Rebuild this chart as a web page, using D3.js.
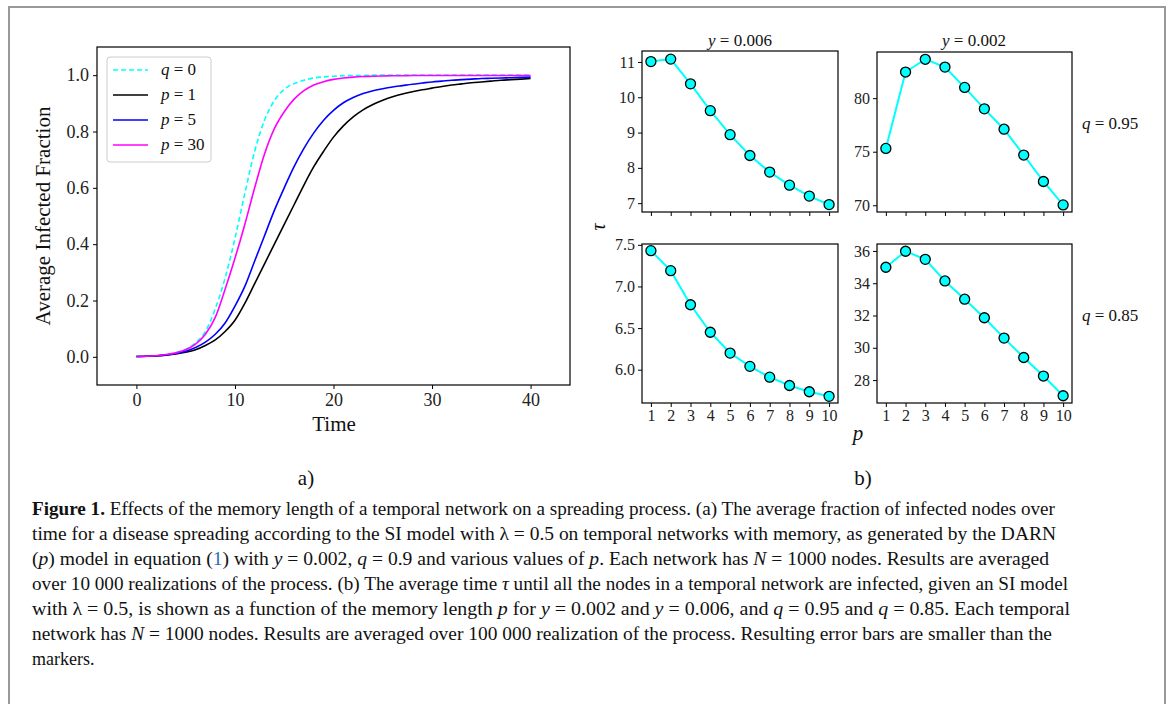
<!DOCTYPE html>
<html lang="en">
<head>
<meta charset="utf-8">
<title>Figure 1</title>
<script src="https://cdn.jsdelivr.net/npm/d3@7"></script>
<style>
    body { margin: 0; background: #fff; }
    text { font-family: "Liberation Serif", "DejaVu Serif", serif; fill: #111; }
    .axis path, .axis line { stroke: #000; }
    .axis text { font-family: "Liberation Serif", serif; fill: #222; }
</style>
</head>
<body>
<svg id="fig" width="1168" height="704"></svg>
<script>
// ---- data for panel a) (average infected fraction vs time) ----
var time = [0,1,2,3,4,5,6,7,8,9,10,11,12,13,14,15,16,17,18,19,20,
            21,22,23,24,25,26,27,28,29,30,31,32,33,34,35,36,37,38,39,40];
var fracQ0 = [0.001,0.002,0.004,0.008,0.015,0.027,0.05,0.09,0.17,0.28,0.42,0.58,0.73,0.84,0.91,0.95,0.97,0.982,0.99,0.994,0.996,
              0.998,0.999,0.999,1,1,1,1,1,1,1,1,1,1,1,1,1,1,1,1,1];
var fracP1 = [0.001,0.002,0.003,0.006,0.01,0.016,0.025,0.04,0.06,0.09,0.13,0.19,0.26,0.33,0.40,0.47,0.54,0.61,0.675,0.73,0.78,
              0.82,0.852,0.877,0.896,0.911,0.923,0.933,0.941,0.948,0.954,0.96,0.965,0.969,0.973,0.976,0.979,0.982,0.984,0.986,0.988];
var fracP5 = [0.001,0.002,0.004,0.007,0.012,0.02,0.033,0.052,0.08,0.12,0.18,0.25,0.34,0.43,0.52,0.60,0.675,0.74,0.795,0.84,0.875,
              0.902,0.921,0.935,0.945,0.952,0.958,0.963,0.968,0.972,0.976,0.979,0.982,0.984,0.986,0.988,0.989,0.99,0.991,0.992,0.993];
var fracP30 = [0.001,0.002,0.004,0.008,0.014,0.025,0.045,0.08,0.14,0.24,0.35,0.47,0.60,0.72,0.81,0.87,0.915,0.945,0.965,0.977,0.985,
               0.99,0.993,0.995,0.996,0.997,0.998,0.998,0.999,0.999,0.999,0.999,0.999,0.999,0.999,0.999,0.999,0.999,0.999,0.999,0.999];
var seriesA = [
    {name: "q", val: "0",  data: fracQ0,  color: "#00ffff", dash: "5,3"},
    {name: "p", val: "1",  data: fracP1,  color: "#000000", dash: null},
    {name: "p", val: "5",  data: fracP5,  color: "#0000ff", dash: null},
    {name: "p", val: "30", data: fracP30, color: "#ff00ff", dash: null}
];
var xTicksA = [0, 10, 20, 30, 40];
var yTicksA = [0.0, 0.2, 0.4, 0.6, 0.8, 1.0];

// ---- data for panel b) (tau vs memory length p) ----
var pVals = [1,2,3,4,5,6,7,8,9,10];
var tauY006Q95 = [11.01, 11.08, 10.38, 9.62, 8.94, 8.35, 7.88, 7.51, 7.20, 6.96];
var tauY002Q95 = [75.31, 82.44, 83.63, 82.90, 81.00, 79.00, 77.10, 74.69, 72.22, 70.03];
var tauY006Q85 = [7.43, 7.19, 6.78, 6.45, 6.20, 6.04, 5.91, 5.81, 5.735, 5.68];
var tauY002Q85 = [34.99, 35.98, 35.48, 34.14, 33.01, 31.86, 30.60, 29.40, 28.25, 27.03];
var yTicksTL = [7, 8, 9, 10, 11];
var yTicksTR = [70, 75, 80];
var yTicksBL = [6.0, 6.5, 7.0, 7.5];
var yTicksBR = [28, 30, 32, 34, 36];

var svg = d3.select("#fig");
svg.append("rect").attr("width", 1168).attr("height", 704).attr("fill", "#fff");

// outer frame of the figure
svg.append("rect")
    .attr("x", 9).attr("y", 7).attr("width", 1156).attr("height", 720)
    .attr("fill", "none").attr("stroke", "#999").attr("stroke-width", 2);

// ================= panel a) =================
var xA = d3.scaleLinear().domain([-4, 44]).range([97, 570]);
var yA = d3.scaleLinear().domain([-0.1, 1.1]).range([385, 47]);

var gA = svg.append("g");

gA.append("g").attr("class", "axis")
    .attr("transform", "translate(0,385)")
    .call(d3.axisBottom(xA).tickValues(xTicksA).tickSize(4).tickPadding(4).tickFormat(d3.format("d")))
    .call(function (g) { g.select(".domain").remove(); })
    .selectAll("text").attr("font-size", 18);

gA.append("g").attr("class", "axis")
    .attr("transform", "translate(97,0)")
    .call(d3.axisLeft(yA).tickValues(yTicksA).tickSize(4).tickPadding(4).tickFormat(d3.format(".1f")))
    .call(function (g) { g.select(".domain").remove(); })
    .selectAll("text").attr("font-size", 18);

var line = d3.line()
    .x(function (d, i) { return xA(time[i]); })
    .y(function (d) { return yA(d); })
    .curve(d3.curveMonotoneX);

seriesA.forEach(function (s) {
    gA.append("path")
        .attr("d", line(s.data))
        .attr("fill", "none")
        .attr("stroke", s.color)
        .attr("stroke-width", 1.6)
        .attr("stroke-dasharray", s.dash);
});

gA.append("rect")
    .attr("x", 97).attr("y", 47).attr("width", 473).attr("height", 338)
    .attr("fill", "none").attr("stroke", "#000").attr("stroke-width", 1.2);

// legend
var leg = gA.append("g").attr("transform", "translate(107,57)");
leg.append("rect")
    .attr("width", 104).attr("height", 105).attr("rx", 3)
    .attr("fill", "#fff").attr("fill-opacity", 0.8)
    .attr("stroke", "#ccc").attr("stroke-width", 1);
seriesA.forEach(function (s, i) {
    var yy = 13 + i * 25;
    leg.append("line")
        .attr("x1", 6).attr("x2", 41).attr("y1", yy).attr("y2", yy)
        .attr("stroke", s.color).attr("stroke-width", 1.6)
        .attr("stroke-dasharray", s.dash);
    var t = leg.append("text").attr("x", 54).attr("y", yy + 5).attr("font-size", 17);
    t.append("tspan").attr("font-style", "italic").text(s.name);
    t.append("tspan").text(" = " + s.val);
});

gA.append("text")
    .attr("transform", "translate(50,216) rotate(-90)")
    .attr("text-anchor", "middle")
    .attr("font-size", 21)
    .text("Average Infected Fraction");

gA.append("text")
    .attr("x", 334).attr("y", 431)
    .attr("text-anchor", "middle")
    .attr("font-size", 21)
    .text("Time");

gA.append("text")
    .attr("x", 306).attr("y", 485)
    .attr("text-anchor", "middle")
    .attr("font-size", 21)
    .text("a)");

// ================= panel b) =================
var panels = [
    {data: tauY006Q95, ticks: yTicksTL, x0: 642, x1: 838, y0: 51,  y1: 212, dom: [6.75, 11.31], fmt: "d",   lab: false},
    {data: tauY002Q95, ticks: yTicksTR, x0: 877, x1: 1072, y0: 52, y1: 212, dom: [69.37, 84.31], fmt: "d",  lab: false},
    {data: tauY006Q85, ticks: yTicksBL, x0: 642, x1: 838, y0: 244, y1: 403, dom: [5.60, 7.51], fmt: ".1f", lab: true},
    {data: tauY002Q85, ticks: yTicksBR, x0: 877, x1: 1072, y0: 244, y1: 403, dom: [26.58, 36.43], fmt: "d", lab: true}
];

panels.forEach(function (pn) {
    var x = d3.scaleLinear().domain([0.55, 10.45]).range([pn.x0, pn.x1]);
    var y = d3.scaleLinear().domain(pn.dom).range([pn.y1, pn.y0]);
    var g = svg.append("g");

    g.append("g").attr("class", "axis")
        .attr("transform", "translate(0," + pn.y1 + ")")
        .call(d3.axisBottom(x).tickValues(pVals).tickSize(4).tickPadding(3)
            .tickFormat(pn.lab ? d3.format("d") : function () { return ""; }))
        .call(function (gg) { gg.select(".domain").remove(); })
        .selectAll("text").attr("font-size", 16);

    g.append("g").attr("class", "axis")
        .attr("transform", "translate(" + pn.x0 + ",0)")
        .call(d3.axisLeft(y).tickValues(pn.ticks).tickSize(4).tickPadding(3).tickFormat(d3.format(pn.fmt)))
        .call(function (gg) { gg.select(".domain").remove(); })
        .selectAll("text").attr("font-size", 16);

    g.append("path")
        .attr("d", d3.line()
            .x(function (d, i) { return x(pVals[i]); })
            .y(function (d) { return y(d); })(pn.data))
        .attr("fill", "none")
        .attr("stroke", "#00ffff")
        .attr("stroke-width", 2);

    g.selectAll("circle")
        .data(pn.data)
        .enter().append("circle")
        .attr("cx", function (d, i) { return x(pVals[i]); })
        .attr("cy", function (d) { return y(d); })
        .attr("r", 5)
        .attr("fill", "#00ffff")
        .attr("stroke", "#000")
        .attr("stroke-width", 1.3);

    g.append("rect")
        .attr("x", pn.x0).attr("y", pn.y0)
        .attr("width", pn.x1 - pn.x0).attr("height", pn.y1 - pn.y0)
        .attr("fill", "none").attr("stroke", "#000").attr("stroke-width", 1.2);
});

function mathLabel(x, y, anchor, name, val, size) {
    var t = svg.append("text").attr("x", x).attr("y", y)
        .attr("text-anchor", anchor).attr("font-size", size);
    t.append("tspan").attr("font-style", "italic").text(name);
    t.append("tspan").text(" = " + val);
    return t;
}
mathLabel(740, 46, "middle", "y", "0.006", 17);
mathLabel(974, 46, "middle", "y", "0.002", 17);
mathLabel(1082, 129, "start", "q", "0.95", 17);
mathLabel(1082, 321, "start", "q", "0.85", 17);

svg.append("text")
    .attr("transform", "translate(605,227) rotate(-90)")
    .attr("text-anchor", "middle")
    .attr("font-size", 20)
    .attr("font-style", "italic")
    .text("τ");

svg.append("text")
    .attr("x", 858).attr("y", 440)
    .attr("text-anchor", "middle")
    .attr("font-size", 21)
    .attr("font-style", "italic")
    .text("p");

svg.append("text")
    .attr("x", 863).attr("y", 485)
    .attr("text-anchor", "middle")
    .attr("font-size", 21)
    .text("b)");

// ================= caption =================
var captionLines = [
    [["Figure 1.", "b"], [" Effects of the memory length of a temporal network on a spreading process. (a) The average fraction of infected nodes over", ""]],
    [["time for a disease spreading according to the SI model with λ = 0.5 on temporal networks with memory, as generated by the DARN", ""]],
    [["(", ""], ["p", "i"], [") model in equation (", ""], ["1", "l"], [") with ", ""], ["y", "i"], [" = 0.002, ", ""], ["q", "i"],
     [" = 0.9 and various values of ", ""], ["p", "i"], [". Each network has ", ""], ["N", "i"], [" = 1000 nodes. Results are averaged", ""]],
    [["over 10 000 realizations of the process. (b) The average time ", ""], ["τ", "i"],
     [" until all the nodes in a temporal network are infected, given an SI model", ""]],
    [["with λ = 0.5, is shown as a function of the memory length ", ""], ["p", "i"], [" for ", ""], ["y", "i"], [" = 0.002 and ", ""],
     ["y", "i"], [" = 0.006, and ", ""], ["q", "i"], [" = 0.95 and ", ""], ["q", "i"], [" = 0.85. Each temporal", ""]],
    [["network has ", ""], ["N", "i"], [" = 1000 nodes. Results are averaged over 100 000 realization of the process. Resulting error bars are smaller than the", ""]],
    [["markers.", ""]]
];
var captionEnds = [1055, 1056, 1049, 1068, 1070, 1052, null];

captionLines.forEach(function (segs, i) {
    var t = svg.append("text")
        .attr("x", 32).attr("y", 515 + i * 25)
        .attr("font-size", 18);
    segs.forEach(function (s) {
        var ts = t.append("tspan").text(s[0]);
        if (s[1] === "b") ts.attr("font-weight", "bold");
        if (s[1] === "i") ts.attr("font-style", "italic");
        if (s[1] === "l") ts.style("fill", "#2a6ebb");
    });
    if (captionEnds[i]) {
        t.attr("textLength", captionEnds[i] - 32).attr("lengthAdjust", "spacingAndGlyphs");
    }
});
</script>
</body>
</html>
